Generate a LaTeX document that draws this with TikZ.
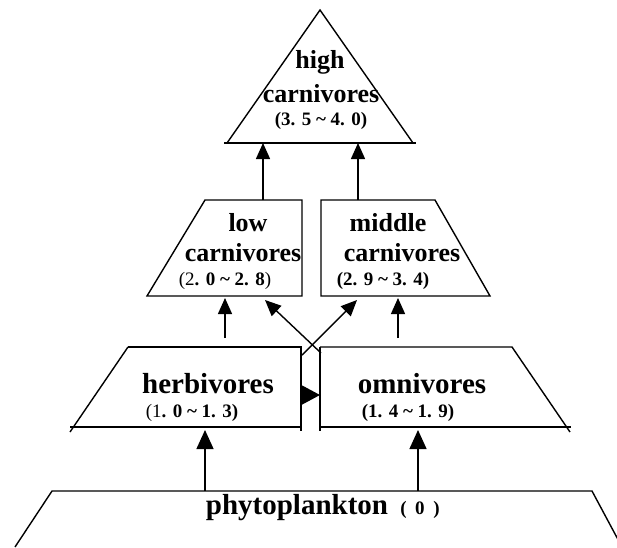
\documentclass[tikz,border=0pt]{standalone}
\usepackage{fontspec}
\setmainfont{Liberation Serif}
\usetikzlibrary{arrows.meta}

\tikzset{
    level/.style={draw, line width=1.4pt, line join=miter},
    taxon/.style={inner sep=0pt, font=\bfseries\fontsize{26}{28}\selectfont},
    basetaxon/.style={inner sep=0pt, font=\bfseries\fontsize{29}{31}\selectfont},
    tlrange/.style={inner sep=0pt, font=\bfseries\fontsize{19}{21}\selectfont},
    feed/.style={line width=1.4pt, -{Triangle[length=16pt, width=14pt]}}
}

\begin{document}
\begin{tikzpicture}[x=1pt, y=-1pt]
    \useasboundingbox (0,0) rectangle (617,547);

    % trophic levels
    \draw[level] (320,10) -- (413,143) -- (227,143) -- cycle;
    \draw[level] (224,143) -- (416,143);
    \draw[level] (205,200) -- (302,200) -- (302,296) -- (147,296) -- cycle;
    \draw[level] (321,200) -- (435,200) -- (490,296) -- (321,296) -- cycle;
    \draw[level] (128,347) -- (301,347) -- (301,431);
    \draw[level] (70,427) -- (301,427);
    \draw[level] (128,347) -- (70,432);
    \draw[level] (320,347) -- (512,347) -- (570,432);
    \draw[level] (320,347) -- (320,431);
    \draw[level] (320,427) -- (571,427);
    \draw[level] (15,547) -- (52,491) -- (592,491) -- (622,547);

    % labels
    \node[taxon]     (highN)  at (320,62)  {high};
    \node[taxon]     (highC)  at (321,94)  {carnivores};
    \node[tlrange]   (highR)  at (321,121) {(3. 5 \textasciitilde\ 4. 0)};
    \node[taxon]     (lowN)   at (248,223) {low};
    \node[taxon]     (lowC)   at (243,253) {carnivores};
    \node[tlrange]   (lowR)   at (225,281) {{\mdseries(2}. 0 \textasciitilde\ 2. 8{\mdseries)}};
    \node[taxon]     (midN)   at (388,223) {middle};
    \node[taxon]     (midC)   at (402,253) {carnivores};
    \node[tlrange]   (midR)   at (383,281) {(2. 9 \textasciitilde\ 3. 4)};
    \node[basetaxon] (herbN)  at (208,384) {herbivores};
    \node[tlrange]   (herbR)  at (192,413) {{\mdseries(1}. 0 \textasciitilde\ 1. 3)};
    \node[basetaxon] (omniN)  at (422,384) {omnivores};
    \node[tlrange]   (omniR)  at (408,413) {(1. 4 \textasciitilde\ 1. 9)};
    \node[basetaxon] (phytoN) at (297,508) {phytoplankton};
    \node[tlrange]   (phytoR) at (420,510) {(\hspace{0.45em}0\hspace{0.45em})};

    % arrow ends
    \coordinate (hcL) at (263,143);
    \coordinate (hcR) at (358,143);
    \coordinate (lcT) at (263,200);
    \coordinate (mcT) at (358,200);
    \coordinate (lcB) at (225,298);
    \coordinate (lcX) at (265,300);
    \coordinate (mcX) at (357,300);
    \coordinate (mcB) at (398,298);
    \coordinate (hbT) at (225,338);
    \coordinate (hbX) at (302,355);
    \coordinate (hbE) at (301,395);
    \coordinate (hbB) at (205,430);
    \coordinate (omT) at (398,338);
    \coordinate (omX) at (321,353);
    \coordinate (omW) at (320,395);
    \coordinate (omB) at (418,430);
    \coordinate (phL) at (205,491);
    \coordinate (phR) at (418,491);

    % feeding links
    \draw[feed] (lcT) -- (hcL);
    \draw[feed] (mcT) -- (hcR);
    \draw[feed] (hbT) -- (lcB);
    \draw[feed] (omX) -- (lcX);
    \draw[feed] (hbX) -- (mcX);
    \draw[feed] (omT) -- (mcB);
    \draw[feed, -{Triangle[length=19pt, width=20pt]}] (hbE) -- (omW);
    \draw[feed, -{Triangle[length=19pt, width=17pt]}] (phL) -- (hbB);
    \draw[feed, -{Triangle[length=19pt, width=17pt]}] (phR) -- (omB);
\end{tikzpicture}
\end{document}
